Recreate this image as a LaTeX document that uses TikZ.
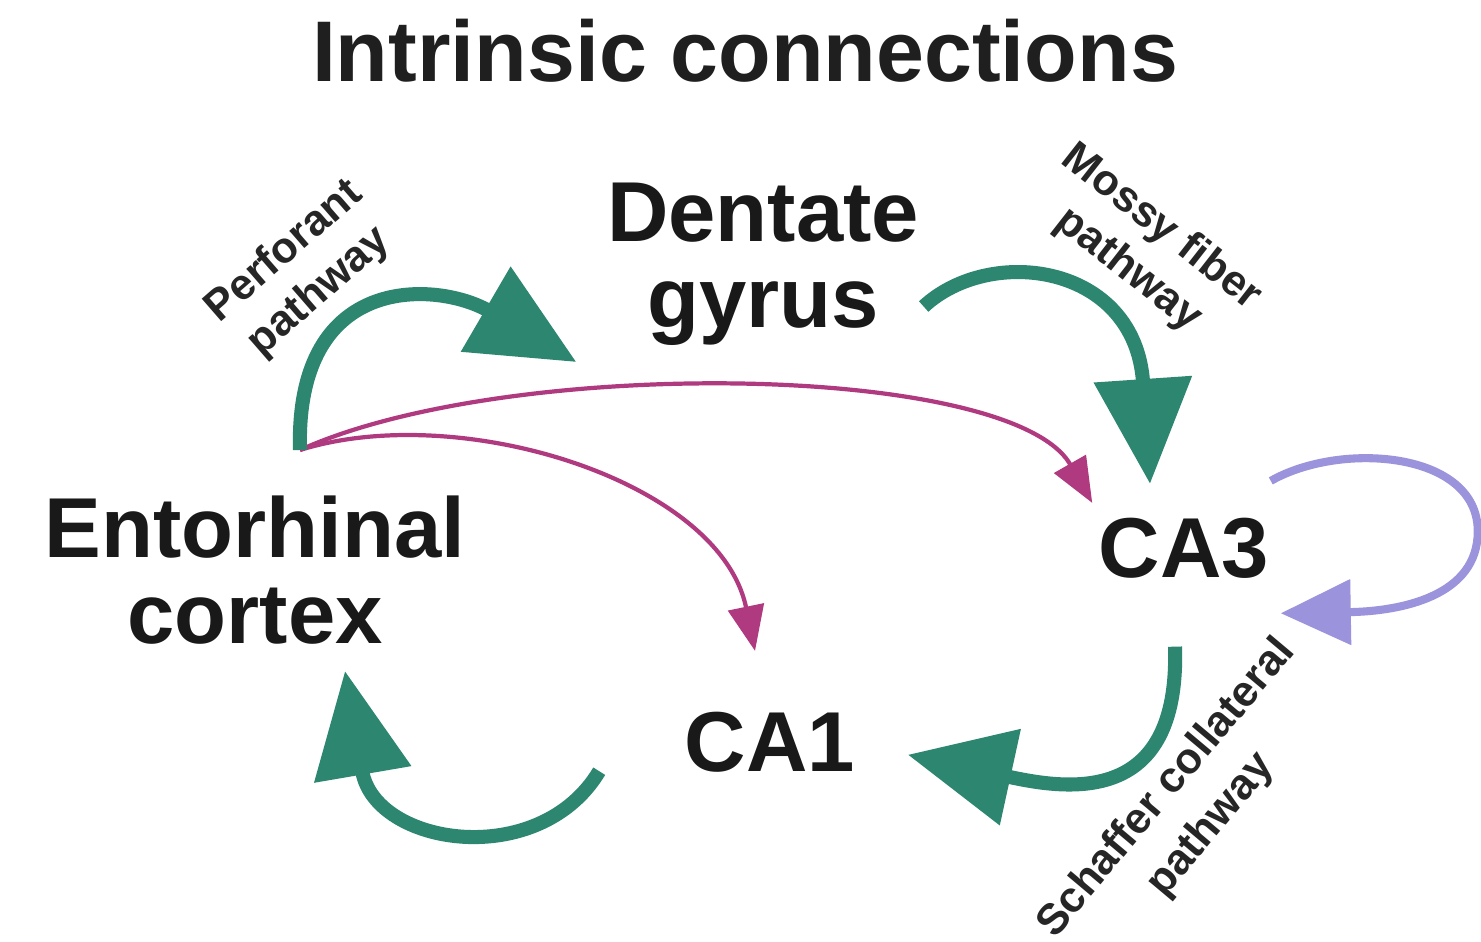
\documentclass[tikz,border=0pt]{standalone}
\usepackage{fontspec}
\setmainfont{Liberation Sans}
\usepackage{tikz}
\usetikzlibrary{arrows.meta}
\definecolor{tealgreen}{RGB}{44,134,112}
\definecolor{plum}{RGB}{176,58,128}
\definecolor{lavender}{RGB}{155,147,219}
\tikzstyle{heading} = [inner sep=0pt, font=\fontsize{24.5}{26}\selectfont\bfseries, text=black!88]
\tikzstyle{region} = [inner sep=0pt, align=center, font=\fontsize{24.2}{24.5}\selectfont\bfseries, text=black!90]
\tikzstyle{pathlabel} = [inner sep=0pt, align=center, font=\fontsize{12.3}{15.2}\selectfont\bfseries, text=black!85]
\tikzstyle{mainarrow} = [draw=tealgreen, line width=4pt, -{Triangle[length=10.5mm, width=9.5mm]}]
\tikzstyle{sidearrow} = [draw=plum, line width=1.2pt, -{Triangle[length=4.5mm, width=3.6mm]}]
\tikzstyle{looparrow} = [draw=lavender, line width=2.3pt, -{Triangle[length=7mm, width=6.4mm]}]

\begin{document}
\begin{tikzpicture}
	\useasboundingbox (0,0) rectangle (14.81,-9.42);
	\fill [white] (0,0) rectangle (14.81,-9.42);

	\node (title) [heading, anchor=base] at (7.45,-0.82) {Intrinsic connections};
	\node (dg) [region, anchor=north] at (7.63,-1.82) {Dentate\\gyrus};
	\node (ec) [region, anchor=north] at (2.55,-4.95) {Entorhinal\\cortex};
	\node (ca1) [region, anchor=base] at (7.70,-7.72) {CA1};
	\node (ca3) [region, anchor=base] at (11.84,-5.78) {CA3};

	\node (perforant) [pathlabel, rotate=41] at (3.02,-2.72) {Perforant\\pathway};
	\node (mossy) [pathlabel, rotate=-38] at (11.45,-2.49) {Mossy fiber\\pathway};
	\node (schaffer) [pathlabel, rotate=50, font=\fontsize{12.3}{16.4}\selectfont\bfseries] at (11.89,-8.07) {Schaffer collateral\\pathway};

	% arrow ends
	\coordinate (ecout) at ([xshift=4.5mm, yshift=4.5mm]ec.north);
	\coordinate (dgin) at ([xshift=-3mm, yshift=-1.6mm]dg.south west);
	\coordinate (dgout) at ([xshift=0.4mm, yshift=-4.25mm]dg.east);
	\coordinate (ca3in) at ([xshift=-3.4mm, yshift=3.4mm]ca3.north);
	\coordinate (ca3out) at ([xshift=-0.9mm, yshift=-6.7mm]ca3.south);
	\coordinate (ca1in) at ([xshift=5.2mm, yshift=-1.2mm]ca1.east);
	\coordinate (ca1out) at ([xshift=-8.5mm, yshift=-2.85mm]ca1.west);
	\coordinate (ecin) at ([xshift=9mm, yshift=-2.6mm]ec.south);
	\coordinate (direct3) at ([xshift=-0.6mm, yshift=1.5mm]ca3.north west);
	\coordinate (direct1) at ([xshift=-1.5mm, yshift=6.1mm]ca1.north);
	\coordinate (loopout) at ([xshift=0.1mm, yshift=3.7mm]ca3.north east);
	\coordinate (loopturn) at ([xshift=20.8mm, yshift=1.75mm]ca3.east);
	\coordinate (loopin) at ([xshift=1.1mm, yshift=-6.45mm]ca3.east);

	\draw [sidearrow](ecout) .. controls +(2.1,0.95) and +(-0.8,1.4) .. (direct3);
	\draw [sidearrow](ecout) .. controls +(1.6,0.5) and +(-0.35,1.7) .. (direct1);
	\draw [mainarrow](ecout) .. controls +(-0.05,1.8) and +(-1.37,0.8) .. (dgin);
	\draw [mainarrow](dgout) .. controls +(0.67,0.62) and +(-0.15,2.2) .. (ca3in);
	\draw [mainarrow](ca3out) .. controls +(0.05,-1.6) and +(1.6,-0.35) .. (ca1in);
	\draw [mainarrow](ca1out) .. controls +(-0.6,-1.0) and +(0.3,-1.75) .. (ecin);
	\draw [looparrow](loopout) .. controls +(0.7,0.4) and +(0,0.8) .. (loopturn)
		.. controls +(0,-0.65) and +(1.2,0.02) .. (loopin);
\end{tikzpicture}
\end{document}
